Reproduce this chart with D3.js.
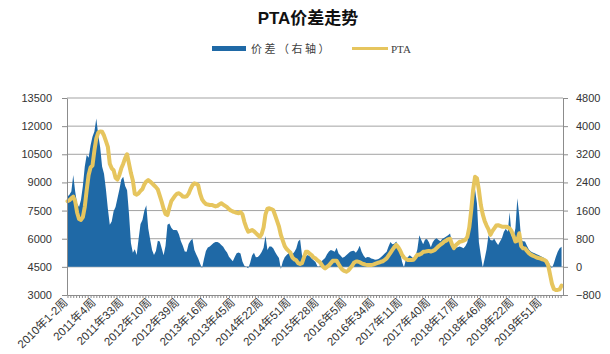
<!DOCTYPE html>
<html>
<head>
<meta charset="utf-8">
<script src="https://cdn.jsdelivr.net/npm/d3@7"></script>
<style>
  html, body { margin: 0; padding: 0; background: #fff; }
  svg { display: block; font-family: "Liberation Sans", Arial, "Noto Sans CJK SC", sans-serif; }
</style>
</head>
<body>
<svg id="chart" width="610" height="354"></svg>
<script>
// Weekly series, one value every two weeks starting at 2010 week 1-2
const weekCount = 516;
const sampleStep = 2;

// PTA price (left axis)
const pta = [
  8000,8050,8150,8240,8000,7400,7050,7000,7150,7700,
  8600,9400,9800,9900,10700,11350,11650,11720,11700,11500,
  11200,10900,10000,9750,9650,9250,9150,9400,9750,10000,
  10300,10500,10000,9500,9100,8400,8350,8420,8550,8650,
  8900,9050,9130,9050,8950,8850,8750,8620,8300,7970,
  7600,7320,7260,7650,8000,8150,8300,8400,8420,8350,
  8250,8240,8260,8400,8650,8850,8950,8920,8850,8400,
  8100,7950,7850,7820,7800,7800,7760,7720,7750,7830,
  7890,7820,7750,7680,7580,7500,7450,7420,7380,7360,
  7420,7300,6900,6600,6370,6420,6460,6400,6300,6200,
  6100,6250,6600,7300,7600,7620,7580,7530,7250,6950,
  6650,6200,5900,5600,5450,5350,5250,5000,4900,4850,
  4700,4650,4700,5000,5300,5300,5200,5130,5000,4950,
  4850,4780,4650,4500,4420,4500,4580,4700,4820,4830,
  4830,4650,4480,4350,4280,4240,4300,4420,4550,4720,
  4780,4780,4750,4690,4650,4620,4600,4600,4600,4620,
  4660,4700,4730,4770,4800,4870,4950,5100,5250,5400,
  5550,5670,5550,5380,5150,5000,4920,4870,4870,4870,
  4880,5000,5150,5150,5200,5300,5310,5330,5350,5320,
  5350,5400,5500,5600,5680,5750,5850,5900,5980,6000,
  5700,5500,5650,5750,5840,5860,5900,5950,6100,6600,
  7500,8600,9300,9220,8600,7800,7300,6950,6700,6500,
  6200,6400,6550,6700,6720,6680,6640,6640,6640,6620,
  6550,6400,6150,5850,5900,6290,5600,5490,5480,5350,
  5230,5150,5100,5050,5000,4970,4950,4900,4870,4800,
  4600,4100,3600,3320,3270,3270,3300,3500
];

// Price spread (right axis)
const spread = [
  2000,2050,2140,2610,2140,1800,1700,1900,2300,2850,
  3180,3100,3450,3700,3850,4220,3750,3400,2850,2650,
  2200,1650,1200,1290,1580,1700,1950,2200,2480,2560,
  2300,2180,1500,680,400,500,340,800,1220,1330,
  1600,1750,1100,780,480,340,450,740,720,530,
  330,600,1200,1230,1110,1050,1050,1040,920,730,
  600,440,430,650,740,800,480,350,240,90,
  -40,220,450,550,580,630,680,710,710,680,
  620,570,480,410,290,220,160,280,390,410,
  380,150,30,0,-40,110,320,400,270,280,
  340,420,540,880,480,580,580,530,420,330,
  250,-60,150,270,340,390,420,360,420,520,
  720,780,330,270,300,340,300,240,190,140,
  20,0,150,200,250,360,440,480,460,430,
  540,380,320,260,280,330,380,430,450,460,
  400,480,600,430,320,250,280,270,240,220,
  200,210,230,270,320,380,430,580,710,640,
  660,720,580,420,150,-20,200,270,330,290,
  240,300,500,900,760,640,780,790,700,560,
  700,780,810,760,730,800,830,860,900,950,
  700,600,540,560,580,560,530,590,700,1100,
  1580,2500,2200,1800,700,320,-20,230,500,900,
  760,750,800,700,620,720,820,1000,1080,1000,
  1550,880,810,1100,1950,1450,760,730,720,600,
  490,440,410,390,360,340,310,280,250,200,
  150,50,-40,100,280,430,530,570
];

// Category labels shown every 29 weeks
const tickLabels = [
  "2010年1-2周","2011年4周","2011年33周","2012年10周","2012年39周",
  "2013年16周","2013年45周","2014年22周","2014年51周","2015年28周",
  "2016年5周","2016年34周","2017年11周","2017年40周","2018年17周",
  "2018年46周","2019年22周","2019年51周"
];
const labelEvery = 29;

const leftTicks = [3000, 4500, 6000, 7500, 9000, 10500, 12000, 13500];
const rightTicks = [-800, 0, 800, 1600, 2400, 3200, 4000, 4800];

const colors = { spread: "#1f69a6", pta: "#e6c55e", grid: "#a3a3a3", axis: "#8c8c8c", text: "#333" };

const svg = d3.select("#chart");
const plot = { left: 67, right: 563, top: 98, bottom: 295 };

const x = d3.scaleLinear().domain([-0.5, weekCount - 0.5]).range([plot.left, plot.right]);
const yL = d3.scaleLinear().domain([3000, 13500]).range([plot.bottom, plot.top]);
const yR = d3.scaleLinear().domain([-800, 4800]).range([plot.bottom, plot.top]);

// Title
svg.append("text")
  .attr("x", 308).attr("y", 24)
  .attr("text-anchor", "middle")
  .style("font-size", "17px").style("font-weight", "bold")
  .attr("fill", "#111")
  .text("PTA价差走势");

// Legend
const legend = svg.append("g");
legend.append("rect").attr("x", 212).attr("y", 46).attr("width", 34).attr("height", 5).attr("fill", colors.spread);
legend.append("text").attr("x", 251).attr("y", 53).attr("fill", "#404040")
  .style("font-size", "11px").style("letter-spacing", "2.5px")
  .style("font-family", "'Noto Sans CJK SC', sans-serif").text("价差（右轴）");
legend.append("line").attr("x1", 352).attr("x2", 388).attr("y1", 48.5).attr("y2", 48.5)
  .attr("stroke", colors.pta).attr("stroke-width", 3);
legend.append("text").attr("x", 391).attr("y", 53).attr("fill", "#404040")
  .style("font-size", "11px")
  .style("font-family", "'Liberation Serif', serif").text("PTA");

// Horizontal gridlines
svg.append("g").selectAll("line").data(leftTicks.slice(1)).join("line")
  .attr("x1", plot.left).attr("x2", plot.right)
  .attr("y1", d => yL(d)).attr("y2", d => yL(d))
  .attr("stroke", colors.grid).attr("stroke-width", 1);

// Spread area from the zero line of the right axis
const idx = (d, i) => i * sampleStep;
const area = d3.area()
  .x((d, i) => x(idx(d, i)))
  .y0(yR(0))
  .y1(d => yR(d));
svg.append("path").datum(spread)
  .attr("d", area)
  .attr("fill", colors.spread);

// PTA price line
const line = d3.line()
  .x((d, i) => x(idx(d, i)))
  .y(d => yL(d));
svg.append("path").datum(pta)
  .attr("d", line)
  .attr("fill", "none")
  .attr("stroke", colors.pta)
  .attr("stroke-width", 4)
  .attr("stroke-linejoin", "round")
  .attr("stroke-linecap", "round");

// Axes
function styleAxis(g) {
  g.select(".domain").attr("stroke", colors.axis);
  g.selectAll(".tick line").attr("stroke", colors.axis);
  g.selectAll(".tick text").attr("fill", colors.text)
    .style("font-size", "11px")
    .style("font-family", "'Liberation Sans', Arial, sans-serif");
}

svg.append("g")
  .attr("transform", `translate(${plot.left},0)`)
  .call(d3.axisLeft(yL).tickValues(leftTicks).tickSize(5).tickSizeOuter(0).tickPadding(10).tickFormat(d3.format("d")))
  .call(styleAxis);

svg.append("g")
  .attr("transform", `translate(${plot.right},0)`)
  .call(d3.axisRight(yR).tickValues(rightTicks).tickSize(5).tickSizeOuter(0).tickPadding(8).tickFormat(d3.format("d")))
  .call(styleAxis);

svg.append("g")
  .attr("transform", `translate(0,${plot.bottom})`)
  .call(d3.axisBottom(x).tickValues(d3.range(0, weekCount, 3)).tickSize(3).tickSizeOuter(0).tickFormat(""))
  .call(styleAxis);

// Rotated category labels
svg.append("g").selectAll("text").data(tickLabels).join("text")
  .attr("transform", (d, i) => `translate(${x(i * labelEvery) + 1},${plot.bottom + 8}) rotate(-45)`)
  .attr("text-anchor", "end")
  .attr("fill", colors.text)
  .style("font-size", "11.5px")
  .style("font-family", "'Liberation Sans', Arial, 'Noto Sans CJK SC', sans-serif")
  .text(d => d);
</script>
</body>
</html>
